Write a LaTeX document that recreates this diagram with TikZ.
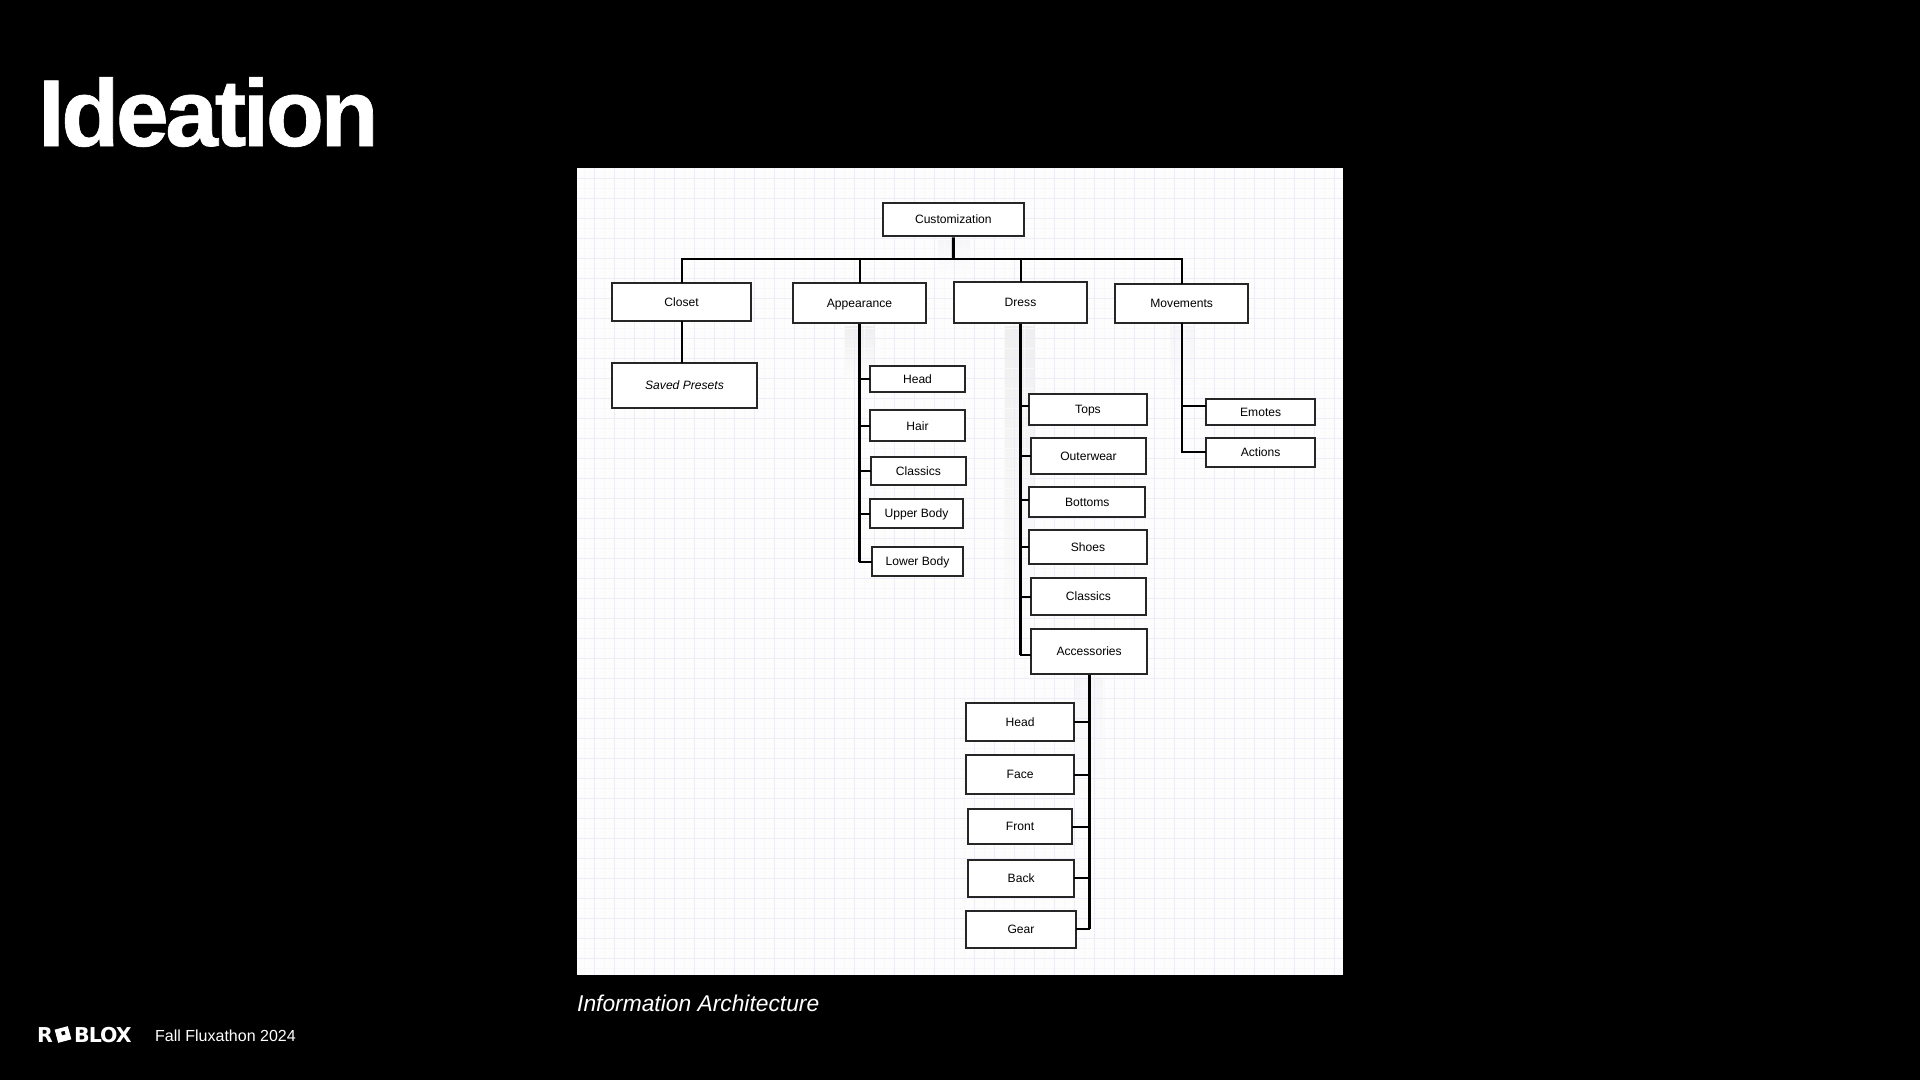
\documentclass[tikz,border=0pt]{standalone}
\usepackage{fontspec}
\setmainfont{Liberation Sans}
\newfontfamily\titlefont[LetterSpace=-3.6,BoldFeatures={FakeBold=0.7}]{Liberation Sans}
\newfontfamily\logofont{DejaVu Sans}
\tikzset{
  box/.style={draw=boxline,line width=2.2pt,fill=white,inner sep=0pt,text=black,text height=8.6pt,text depth=0pt,font=\fontsize{12.1}{14}\selectfont},
  conn/.style={draw=black,line width=2pt,line cap=rect},
  spine/.style={draw=black,line width=2.9pt},
  band/.style={top color=bandc,bottom color=panelc,draw=none},
  fband/.style={top color=bandf,bottom color=panelc,draw=none},
  lab/.style={inner sep=0pt,text=white,anchor=base west}
}
\definecolor{boxline}{HTML}{262626}
\definecolor{panelc}{HTML}{FDFDFE}
\definecolor{bandc}{HTML}{EFEFF0}
\definecolor{bandf}{HTML}{F6F6F8}
\definecolor{gridmaj}{HTML}{EDECF8}
\definecolor{gridmin}{HTML}{F9F9FC}
\newcommand{\bx}[6]{%
  \pgfmathsetmacro{\bcx}{(#2+#4)/2}\pgfmathsetmacro{\bcy}{(#3+#5)/2}%
  \pgfmathsetmacro{\bw}{#4-#2-2}\pgfmathsetmacro{\bh}{#5-#3-2}%
  \node[box,minimum width=\bw pt,minimum height=\bh pt] (#1) at (\bcx,\bcy) {#6};}
\begin{document}
\begin{tikzpicture}[x=1pt,y=-1pt]
\useasboundingbox (0,0) rectangle (1920,1080);
\fill[black] (0,0) rectangle (1920,1080);
\fill[panelc] (577,168) rectangle (1343,975);
% pale bands beside the main lines
\shade[fband] (938,240) rectangle (970,276);
\shade[band] (845,326) rectangle (875,380);
\shade[band] (1005,326) rectangle (1035,640);
\shade[fband] (1170,326) rectangle (1195,400);
\shade[fband] (1075,677) rectangle (1103,800);
% grid
\begin{scope}
\clip (577,168) rectangle (1343,975);
\foreach \gx in {584,604,...,1344} \draw[gridmin,line width=.8pt] (\gx,168) -- (\gx,975);
\foreach \gy in {168,188,...,975} \draw[gridmin,line width=.8pt] (577,\gy) -- (1343,\gy);
\foreach \gx in {594,614,...,1344} \draw[gridmaj,line width=1pt] (\gx,168) -- (\gx,975);
\foreach \gy in {178,198,...,975} \draw[gridmaj,line width=1pt] (577,\gy) -- (1343,\gy);
\end{scope}
% boxes
\bx{cust}{881.7}{201.7}{1025}{237.3}{Customization}
\bx{closet}{611.3}{281.7}{751.7}{322.3}{Closet}
\bx{appear}{792.3}{281.7}{926.7}{324.3}{Appearance}
\bx{dress}{953.3}{280.7}{1087.7}{324.3}{Dress}
\bx{move}{1114.3}{282.7}{1249}{324.3}{Movements}
\bx{saved}{611.3}{361.7}{757.7}{409}{\itshape Saved Presets}
\bx{ahead}{868.7}{364.7}{966.3}{393}{Head}
\bx{hair}{868.7}{409.3}{966.3}{442.3}{Hair}
\bx{aclass}{869.7}{456}{967.3}{486}{Classics}
\bx{upper}{868.7}{498}{964.3}{529}{Upper Body}
\bx{lower}{871.3}{546}{963.7}{577}{Lower Body}
\bx{tops}{1028.3}{393}{1147.7}{426}{Tops}
\bx{outer}{1030}{437}{1147}{475}{Outerwear}
\bx{bottoms}{1028.3}{486}{1146.3}{518}{Bottoms}
\bx{shoes}{1028.3}{528.7}{1147.7}{565}{Shoes}
\bx{dclass}{1030}{577}{1147}{616}{Classics}
\bx{access}{1030}{628}{1148.3}{675}{Accessories}
\bx{emotes}{1205.3}{397.7}{1316}{426}{Emotes}
\bx{actions}{1205.3}{436.7}{1316}{468}{Actions}
\bx{chead}{965.3}{702}{1075}{742}{Head}
\bx{face}{965.3}{754.3}{1075}{794.7}{Face}
\bx{front}{966.7}{808}{1073.3}{845}{Front}
\bx{back}{967.3}{858.7}{1075}{898}{Back}
\bx{gear}{965.3}{909.7}{1076.7}{949}{Gear}
% connectors
\coordinate (bus) at (953.3,259.3);
\coordinate (topsb) at ([yshift=3.5pt]tops.west);
\coordinate (botb) at ([yshift=2pt]bottoms.west);
\coordinate (accb) at ([yshift=-3.5pt]access.west);
\coordinate (emob) at ([yshift=6pt]emotes.west);
\draw[spine] (cust.south) -- (bus);
\draw[conn] (bus -| closet.south) -- (bus -| move.north);
\draw[conn] (bus -| closet.south) -- (closet.north);
\draw[conn] (bus -| appear.north) -- (appear.north);
\draw[conn] (bus -| dress.north) -- (dress.north);
\draw[conn] (bus -| move.north) -- (move.north);
\draw[conn] (closet.south) -- (closet.south |- saved.north);
\draw[spine] (appear.south) -- (appear.south |- lower.west);
\foreach \n in {ahead,hair,aclass,upper,lower} \draw[conn] (appear.south |- \n.west) -- (\n.west);
\draw[spine] (dress.south) -- (dress.south |- accb);
\foreach \n in {outer,shoes,dclass} \draw[conn] (dress.south |- \n.west) -- (\n.west);
\draw[conn] (dress.south |- topsb) -- (topsb);
\draw[conn] (dress.south |- botb) -- (botb);
\draw[conn] (dress.south |- accb) -- (accb);
\draw[conn] (move.south) -- (move.south |- actions.west) -- (actions.west);
\draw[conn] (move.south |- emob) -- (emob);
\draw[spine] (access.south) -- (access.south |- gear.east);
\foreach \n in {chead,face,front,back,gear} \draw[conn] (access.south |- \n.east) -- (\n.east);
% slide texts
\node[lab,font=\fontsize{95}{100}\bfseries\titlefont] (title) at (38,146) {Ideation};
\node[lab,font=\fontsize{22.8}{28}\itshape] (caption) at (577,1011) {Information Architecture};
\node[lab,font=\fontsize{16}{18}\selectfont] (footer) at (155,1041) {Fall Fluxathon 2024};
% logo
\node[lab,font=\fontsize{20.5}{22}\bfseries\logofont] (logoR) at (37,1042) {R};
\node[lab,font=\fontsize{20.5}{22}\bfseries\logofont] (logoB) at (74,1042) {\addfontfeatures{LetterSpace=-5}BLOX};
\begin{scope}[shift={(63,1034.5)},rotate=15]
\fill[white,even odd rule] (-6.8,-6.8) rectangle (6.8,6.8) (-1.2,-3.2) rectangle (2.6,0.6);
\end{scope}
\end{tikzpicture}
\end{document}
